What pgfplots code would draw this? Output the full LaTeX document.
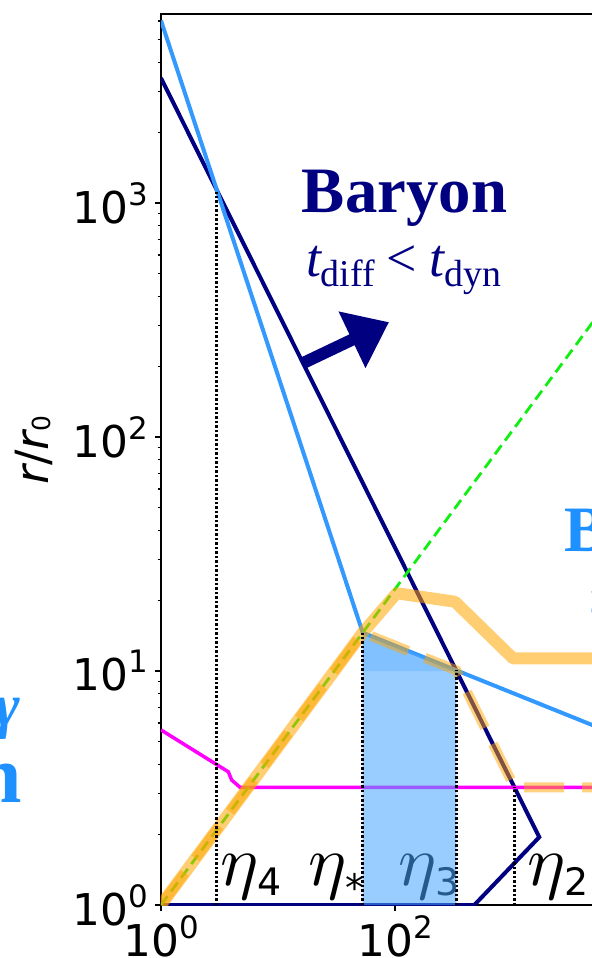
\documentclass[border=0pt]{standalone}
\usepackage{fontspec}
\usepackage{graphicx}
\usepackage{pgfplots}
\pgfplotsset{compat=1.18}
\usetikzlibrary{arrows.meta}
\newfontfamily\dv{DejaVu Sans}
\newfontfamily\tms{Liberation Serif}
\definecolor{navyc}{HTML}{000080}
\definecolor{lblue}{HTML}{3399FF}
\definecolor{txtblue}{HTML}{1E90FF}
\definecolor{fillc}{HTML}{47A4FF}
\definecolor{orng}{HTML}{FFA500}
\definecolor{mag}{HTML}{FF00FF}
\definecolor{grn}{HTML}{11EE11}
\definecolor{eta3c}{HTML}{245A8C}
\newcommand\sups[1]{\raisebox{18bp}{\fontsize{31}{31}\selectfont #1}}
\newcommand\etaglyph{\scalebox{7.2}{$\eta$}}
\newcommand\etasub[2]{\etaglyph\kern-1bp\lower#1\hbox{\dv\fontsize{38}{38}\selectfont #2}}
\begin{document}
\begin{tikzpicture}
\useasboundingbox (-161bp,-53bp) rectangle (431bp,905bp);
\clip (-161bp,-53bp) rectangle (431bp,905bp);
\begin{axis}[
  at={(0,0)}, anchor=south west, scale only axis,
  width=585bp, height=891bp,
  xmode=log, ymode=log,
  xmin=1, xmax=1e5, ymin=1, ymax=6427,
  axis line style={line width=1.5bp, black},
  xtick={1,100,10000}, xticklabels={10\sups{0},10\sups{2},10\sups{4}},
  ytick={1,10,100,1000}, yticklabels={10\sups{0},10\sups{1},10\sups{2},10\sups{3}},
  minor xtick={},
  minor ytick={2,3,4,5,6,7,8,9,20,30,40,50,60,70,80,90,200,300,400,500,600,700,800,900,2000,3000,4000,5000,6000},
  tick align=outside, xtick pos=left, ytick pos=left,
  major tick length=6bp, minor tick length=3.5bp,
  every tick/.style={black, line width=1.2bp},
  ticklabel style={font=\dv\fontsize{44}{44}\selectfont, inner sep=0pt},
  yticklabel style={xshift=-7bp},
  xticklabel style={yshift=-4bp},
  clip=true,
]
\addplot[navyc, line width=4bp] coordinates {(1,3420) (1710,1.95) (476.4,1) (1,1)};
\addplot[lblue, line width=4bp] coordinates {(1,6026) (52.97,14.59) (31623,4.03)};
\addplot[mag, line width=3.5bp] coordinates {(1,5.6) (3.76,3.71) (4.02,3.42) (4.73,3.185) (100000,3.185)};
\addplot[draw=none, fill=fillc, fill opacity=0.55] coordinates {(52.97,1) (333.9,1) (333.9,10.07) (52.97,14.59)} -- cycle;
\addplot[draw=none, fill=fillc, fill opacity=0.3] coordinates {(52.97,10) (333.9,10) (333.9,10.07) (52.97,14.59)} -- cycle;
\addplot[grn, line width=2.8bp, dash pattern=on 11bp off 6bp] coordinates {(1,1) (100000,2371)};
\addplot[orng, draw opacity=0.55, line width=12bp, line join=round] coordinates {(1,1) (52.97,14.59) (103.3,21.5) (325.8,19.77) (1021,11.32) (100000,11.32)};
\addplot[orng, draw opacity=0.5, line width=10bp, dash pattern=on 40bp off 18bp] coordinates {(1,1) (52.97,14.59) (333.9,10.07) (1050,3.185) (100000,3.185)};
\addplot[black, line width=2.5bp, dash pattern=on 2.5bp off 2bp] coordinates {(2.99,1) (2.99,1114)};
\addplot[black, line width=2.5bp, dash pattern=on 2.5bp off 2bp] coordinates {(52.97,1) (52.97,14.59)};
\addplot[black, line width=2.5bp, dash pattern=on 2.5bp off 2bp] coordinates {(333.9,1) (333.9,10.07)};
\addplot[black, line width=2.5bp, dash pattern=on 2.5bp off 2bp] coordinates {(1050,1) (1050,3.185)};
\draw[navyc, line width=12bp, -{Triangle[length=41bp,width=60bp]}] (axis cs:16.37,207) -- (axis cs:88.9,309.7);
\end{axis}
% eta labels
\node[anchor=base west, inner sep=0] at (59bp,20bp) {\etasub{10bp}{4}};
\node[anchor=base west, inner sep=0] at (147bp,20bp) {\etaglyph\kern-1bp\lower16bp\hbox{\dv\fontsize{38}{38}\selectfont *}};
\node[anchor=base west, inner sep=0, text=eta3c] at (237bp,20bp) {\etasub{10bp}{3}};
\node[anchor=base west, inner sep=0] at (366bp,20bp) {\etasub{10bp}{2}};
% y label
\node[rotate=90, anchor=base, inner sep=0] at (-112bp,455bp) {\dv\fontsize{46}{46}\selectfont\itshape r\upshape/\itshape r\lower2bp\hbox{\upshape\fontsize{25}{25}\selectfont 0}};
% annotations
\node[anchor=base, inner sep=0, text=navyc] at (404.5bp-161bp,692bp) {\tms\bfseries\fontsize{65}{65}\selectfont Baryon};
\node[anchor=base, inner sep=0, text=navyc] at (403.5bp-161bp,628bp) {\tms\fontsize{54}{54}\selectfont\itshape t\lower10bp\hbox{\upshape\fontsize{38}{38}\selectfont diff}\hspace{12bp}\upshape<\hspace{12bp}\itshape t\lower10bp\hbox{\upshape\fontsize{38}{38}\selectfont dyn}};
\node[anchor=base west, inner sep=0, text=txtblue] at (403bp,353bp) {\tms\bfseries\fontsize{65}{65}\selectfont Baryon};
\node[anchor=base west, inner sep=0, text=txtblue] at (428bp,289bp) {\tms\fontsize{54}{54}\selectfont\itshape t\lower10bp\hbox{\upshape\fontsize{38}{38}\selectfont diff}\hspace{12bp}\upshape>\hspace{12bp}\itshape t\lower10bp\hbox{\upshape\fontsize{38}{38}\selectfont dyn}};
\node[anchor=base east, inner sep=0, text=txtblue] at (-141bp,178bp) {\tms\bfseries\itshape\fontsize{62}{62}\selectfont γ};
\node[anchor=base east, inner sep=0, text=txtblue] at (-139bp,102bp) {\tms\bfseries\fontsize{82}{82}\selectfont Photon};
\end{tikzpicture}
\end{document}
